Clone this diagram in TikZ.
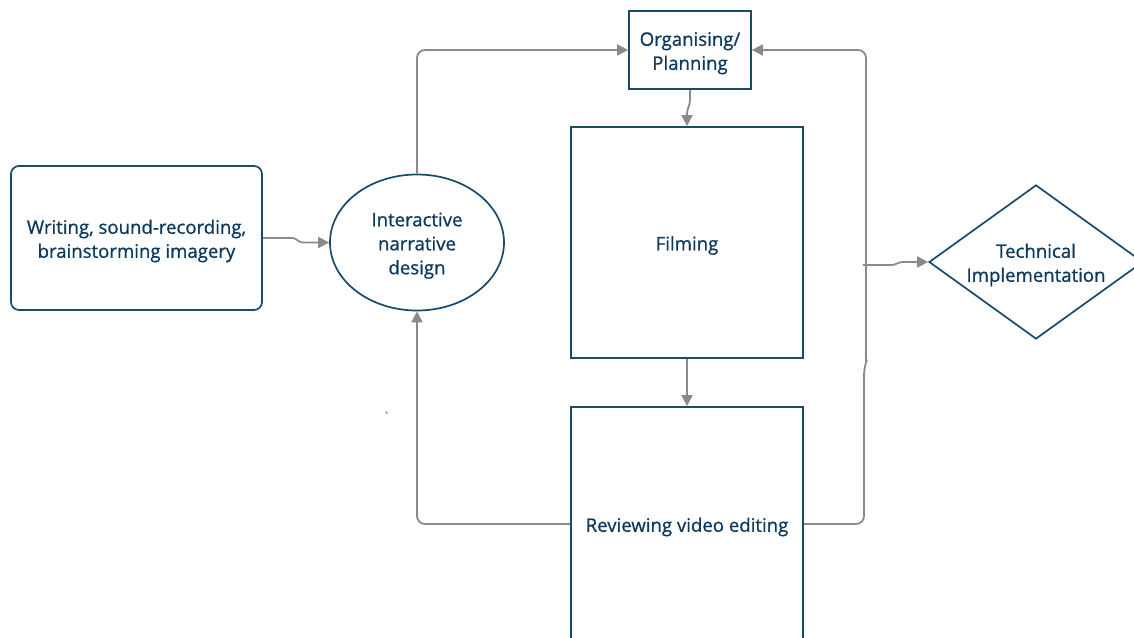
\documentclass[tikz,border=0pt]{standalone}
\usepackage{fontspec}
\setmainfont{Open Sans}[FakeBold=0.8]
\usetikzlibrary{shapes.geometric,arrows.meta,calc}
\definecolor{inkblue}{HTML}{0D3A5C}
\definecolor{edgeblue}{HTML}{174B6C}
\definecolor{linkgray}{HTML}{8A8A8A}
% centred lines set on struts, lowered slightly inside their shape
\newcommand\shapetext[1]{\raisebox{-3pt}[\height][\depth]{\begin{tabular}{@{}c@{}}#1\end{tabular}}}
\tikzset{
  box/.style={draw=edgeblue,line width=1.7pt,fill=white,text=inkblue,
    inner sep=0pt,font=\fontsize{18.6}{24}\selectfont},
  oval/.style={box,ellipse},
  decision/.style={box,diamond,aspect=1.39},
  link/.style={draw=linkgray,line width=1.8pt,
    -{Triangle[length=11pt,width=11pt]}},
}
\begin{document}
\begin{tikzpicture}[x=1pt,y=-1pt]
\useasboundingbox (0,0) rectangle (1134,637);

% nodes
\node[box,rounded corners=8pt,minimum width=251pt,minimum height=144pt]
  (write) at (136.5,238) {\shapetext{Writing, sound-recording,\\brainstorming imagery}};
\node[oval,minimum width=174pt,minimum height=136pt]
  (design) at (417,242.5) {\shapetext{Interactive\\narrative\\design}};
\node[box,minimum width=122pt,minimum height=78pt]
  (plan) at (690,50) {\shapetext{Organising/\\Planning}};
\node[box,minimum width=232pt,minimum height=231pt]
  (film) at (687,242.5) {\shapetext{Filming}};
\node[box,minimum width=232pt,minimum height=234pt]
  (review) at (687,524) {\shapetext{Reviewing video editing}};
\node[decision,minimum width=214pt,minimum height=154pt]
  (tech) at (1036,262) {\shapetext{Technical\\Implementation}};

% helper points
\coordinate (k1) at (864,367);
\coordinate (k2) at (866,362);
\coordinate (t0) at (863,265);

% connectors
\draw[link] (write.east) -- ++(28,0)
  .. controls +(8,0) and +(-8,0) .. ($(design.west)+(-25,0)$) -- (design.west);
\draw[link,rounded corners=8pt] (design.north) |- (plan.west);
\draw[link,rounded corners=8pt] (review.east) -| (k1) [sharp corners] -- (k2)
  [rounded corners=8pt] |- (plan.east);
\draw[link] (plan.south) -- ++(0,10)
  .. controls +(0,6) and +(0,-6) .. ($(film.north)+(0,-12)$) -- (film.north);
\draw[link] (film.south) -- (review.north);
\draw[link,rounded corners=8pt] (review.west) -| (design.south);
\draw[link] (t0) -- ++(27,0)
  .. controls +(8,0) and +(-8,0) .. ($(tech.west)+(-24,0)$) -- (tech.west);

% stray tick
\draw[linkgray,line width=1.2pt] (385.5,411.5) -- (387.5,413.5);
\end{tikzpicture}
\end{document}
